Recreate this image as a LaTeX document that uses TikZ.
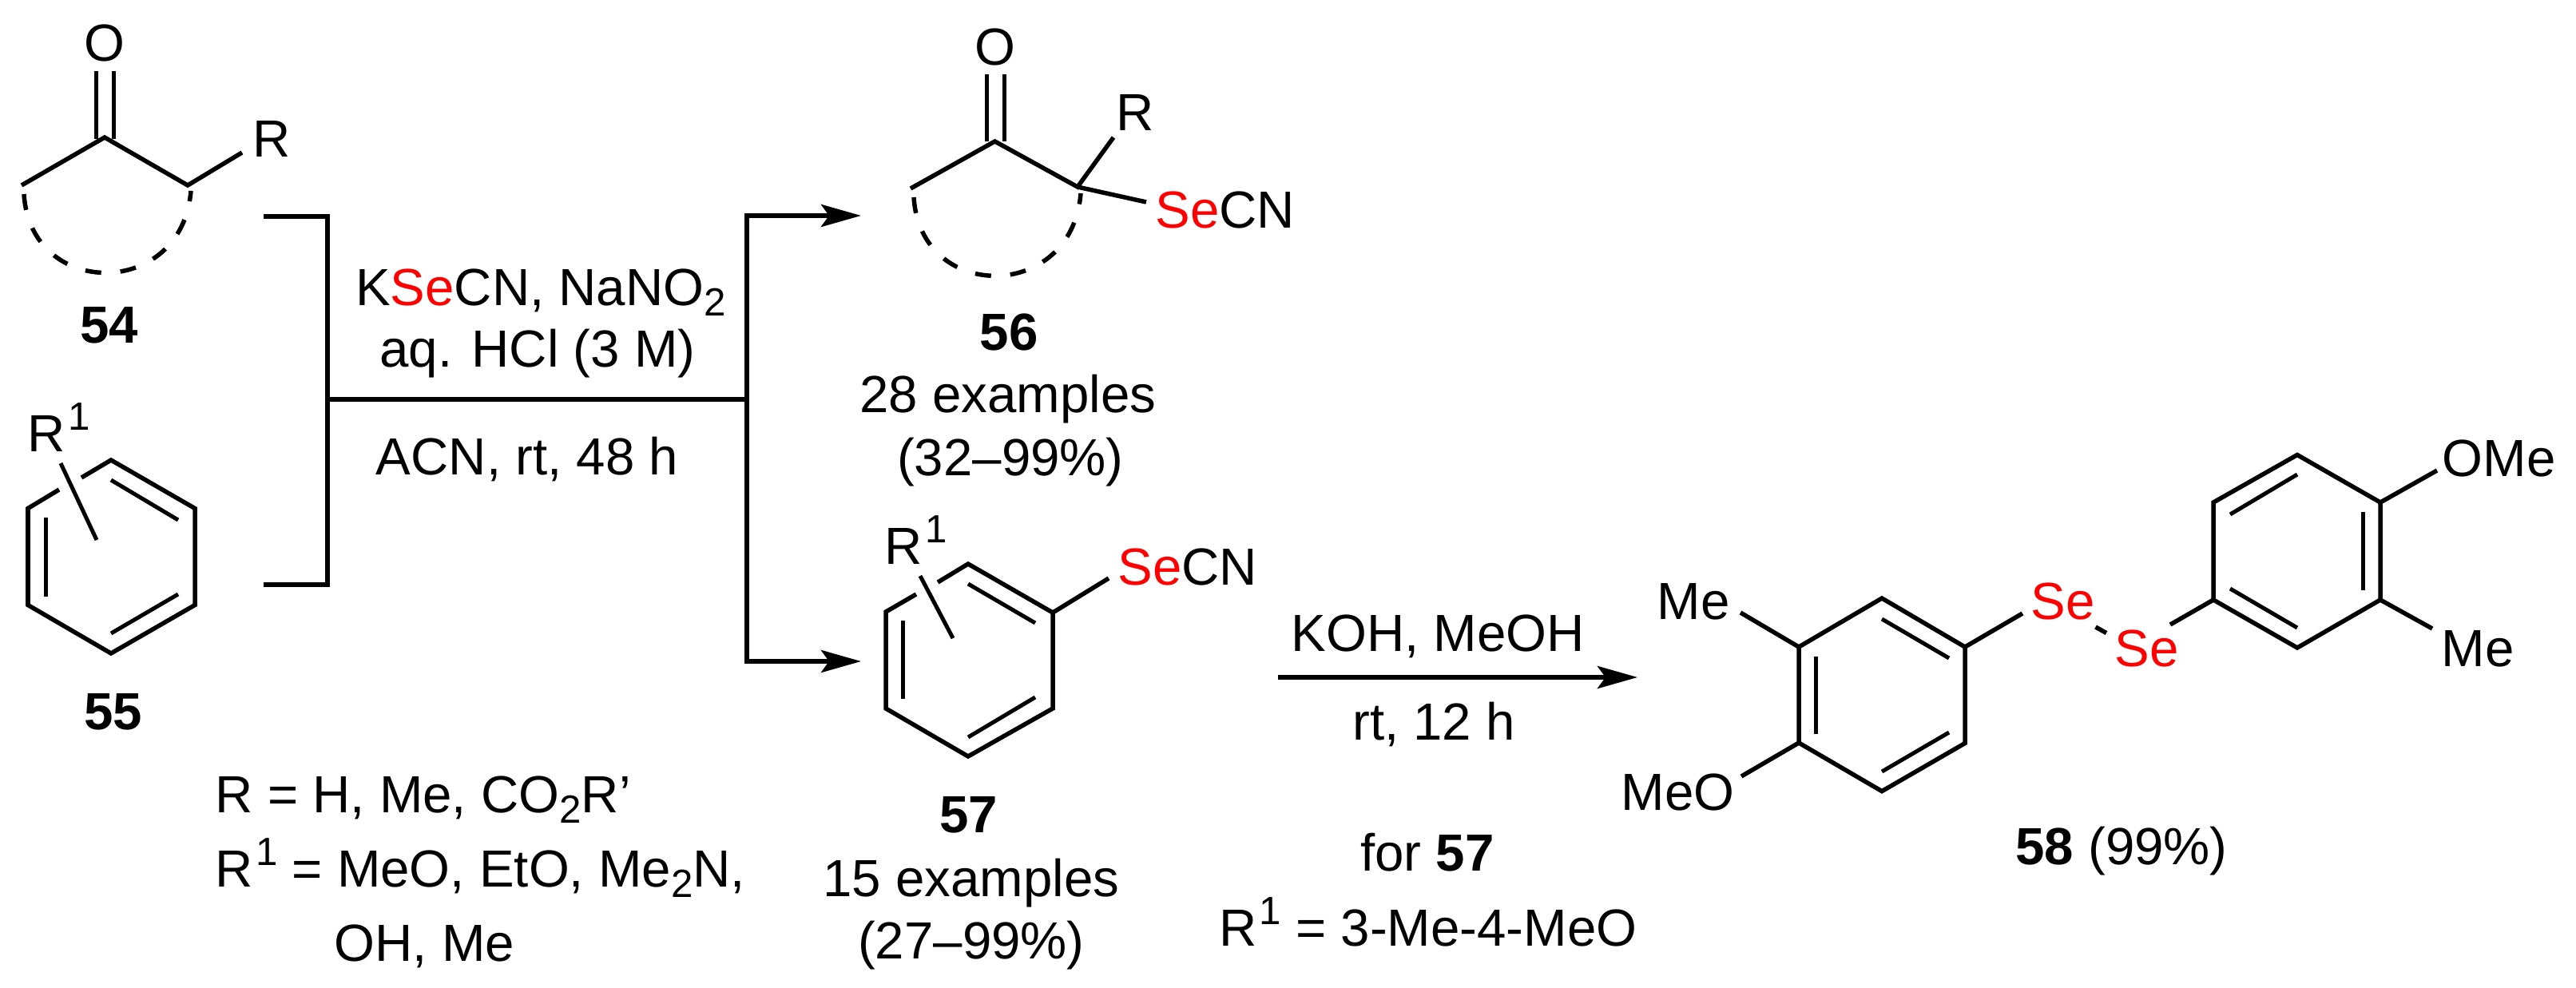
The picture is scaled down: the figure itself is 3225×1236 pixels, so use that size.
\documentclass[tikz,border=0pt]{standalone}
\usepackage{fontspec}
\setmainfont{Liberation Sans}
\usetikzlibrary{arrows.meta,calc}
\newcommand{\chemsub}[1]{\raisebox{-0.21em}{\fontsize{14}{14}\selectfont #1}}
\newcommand{\chemsup}[1]{\kern0.05em\raisebox{0.41em}{\fontsize{14}{14}\selectfont #1}}
\newcommand{\se}{\textcolor{red}{Se}}

\begin{document}
\begin{tikzpicture}[x=0.01cm,y=-0.01cm]
  \tikzstyle{bond}=[line width=0.055cm]
  \tikzstyle{inbond}=[line width=0.05cm]
  \tikzstyle{ringdash}=[line width=0.055cm, dash pattern=on 0.2cm off 0.24cm]
  \tikzstyle{schemeline}=[line width=0.058cm]
  \tikzstyle{rxnarrow}=[line width=0.058cm, -{Stealth[length=0.5cm,width=0.28cm,inset=0.1cm]}]
  \tikzstyle{chem}=[inner sep=0pt, anchor=base, font=\fontsize{18.6}{22}\selectfont]
  \tikzstyle{chemleft}=[chem, anchor=base west]
  \useasboundingbox (0,0) rectangle (3225,1236);

  % Ketone 54
  \node[chem] (o54) at (131,76) {O};
  \node[chem] (r54) at (340,196) {R};
  \node[chem] (lab54) at (137,429) {\textbf{54}};
  \coordinate (a54) at (131,172);
  \coordinate (l54) at (27,232);
  \coordinate (m54) at (235,232);
  \coordinate (e54) at (303,191);
  \draw[bond] (l54) -- (a54) -- (m54) -- (e54);
  \coordinate (d54a) at (120.7,174);
  \coordinate (d54b) at (120.7,89);
  \coordinate (d54c) at (142.4,174);
  \coordinate (d54d) at (142.4,89);
  \draw[bond] (d54a) -- (d54b);
  \draw[bond] (d54c) -- (d54d);
  \coordinate (s54) at (30,243);
  \coordinate (f54) at (239,239);
  \draw[ringdash] (s54) .. controls (38,375) and (228,375) .. (f54);

  % Arene 55
  \node[chemleft] (r55) at (34,565) {R\chemsup{1}};
  \node[chem] (lab55) at (142,913) {\textbf{55}};
  \coordinate (a55) at (139,576);
  \coordinate (b55) at (244,636.5);
  \coordinate (c55) at (244,757.5);
  \coordinate (d55) at (139,818);
  \coordinate (e55) at (35,757.5);
  \coordinate (f55) at (35,636.5);
  \coordinate (g55) at (102,598);
  \coordinate (h55) at (74,613);
  \draw[bond] (g55) -- (a55) -- (b55) -- (c55) -- (d55) -- (e55) -- (f55) -- (h55);
  \coordinate (i55) at (76,580);
  \coordinate (j55) at (121,676);
  \draw[inbond] (i55) -- (j55);
  \coordinate (k55) at (139,601);
  \coordinate (l55) at (223,651);
  \coordinate (m55) at (139,793);
  \coordinate (n55) at (223,744);
  \coordinate (o55) at (57.5,648);
  \coordinate (p55) at (57.5,746.5);
  \draw[inbond] (k55) -- (l55);
  \draw[inbond] (m55) -- (n55);
  \draw[inbond] (o55) -- (p55);

  % Reaction lines
  \coordinate (tl) at (330,271);
  \coordinate (tm) at (410,271);
  \coordinate (bm) at (410,732);
  \coordinate (bl) at (330,732);
  \coordinate (cl) at (410,500);
  \coordinate (cr) at (935,500);
  \coordinate (tr) at (935,270);
  \coordinate (br) at (935,828);
  \coordinate (ta) at (1078,270);
  \coordinate (ba) at (1078,828);
  \draw[schemeline] (tl) -- (tm) -- (bm) -- (bl);
  \draw[schemeline] (cl) -- (cr);
  \draw[rxnarrow] (tr) -- (ta);
  \draw[rxnarrow] (br) -- (ba);
  \draw[schemeline] ($(tr)+(0,-3)$) -- ($(br)+(0,3)$);

  \node[chem] (cond1) at (677,382) {K\se CN, NaNO\chemsub{2}};
  \node[chem] (cond2) at (673,459) {aq. HCl (3 M)};
  \node[chem] (cond3) at (660,594) {ACN, rt, 48 h};

  % Substituents
  \node[chemleft] (sub1) at (269,1017) {R = H, Me, CO\chemsub{2}R'};
  \node[chemleft] (sub2) at (269,1110) {R\chemsup{1} = MeO, EtO, Me\chemsub{2}N,};
  \node[chemleft] (sub3) at (418,1203) {OH, Me};

  % Product 56
  \node[chem] (o56) at (1245.5,81) {O};
  \node[chem] (r56) at (1421,163) {R};
  \node[chemleft] (se56) at (1446,285) {\se CN};
  \node[chem] (lab56) at (1263,438) {\textbf{56}};
  \node[chem] (ex56) at (1262,516) {28 examples};
  \node[chem] (y56) at (1265,595) {(32–99\%)};
  \coordinate (a56) at (1245.5,177);
  \coordinate (l56) at (1140,236);
  \coordinate (m56) at (1349,234);
  \coordinate (e56) at (1394,172);
  \coordinate (g56) at (1435,253);
  \draw[bond] (l56) -- (a56) -- (m56) -- (e56);
  \draw[bond] (m56) -- (g56);
  \coordinate (d56a) at (1235.7,177);
  \coordinate (d56b) at (1235.7,93);
  \coordinate (d56c) at (1257.5,177);
  \coordinate (d56d) at (1257.5,93);
  \draw[bond] (d56a) -- (d56b);
  \draw[bond] (d56c) -- (d56d);
  \coordinate (s56) at (1144,247);
  \coordinate (f56) at (1353,242);
  \draw[ringdash] (s56) .. controls (1152,379) and (1342,379) .. (f56);

  % Product 57
  \node[chemleft] (r57) at (1107,706) {R\chemsup{1}};
  \node[chemleft] (se57) at (1399,732) {\se CN};
  \node[chem] (lab57) at (1212.5,1042) {\textbf{57}};
  \node[chem] (ex57) at (1216,1122) {15 examples};
  \node[chem] (y57) at (1216,1200) {(27–99\%)};
  \coordinate (a57) at (1212,706);
  \coordinate (b57) at (1318,767);
  \coordinate (c57) at (1318,887);
  \coordinate (d57) at (1212,947);
  \coordinate (e57) at (1109,887);
  \coordinate (f57) at (1109,766);
  \coordinate (g57) at (1174,729);
  \coordinate (h57) at (1147,744);
  \draw[bond] (g57) -- (a57) -- (b57) -- (c57) -- (d57) -- (e57) -- (f57) -- (h57);
  \coordinate (i57) at (1152,721);
  \coordinate (j57) at (1193,799);
  \draw[inbond] (i57) -- (j57);
  \coordinate (k57) at (1212,731);
  \coordinate (l57) at (1296,780);
  \coordinate (m57) at (1212,923);
  \coordinate (n57) at (1296,873);
  \coordinate (o57) at (1130,777);
  \coordinate (p57) at (1130,875);
  \draw[inbond] (k57) -- (l57);
  \draw[inbond] (m57) -- (n57);
  \draw[inbond] (o57) -- (p57);
  \coordinate (q57) at (1388,724);
  \draw[bond] (b57) -- (q57);

  % Second step
  \coordinate (st) at (1600,848);
  \coordinate (en) at (2050,848);
  \draw[rxnarrow] (st) -- (en);
  \node[chem] (cond4) at (1800,815) {KOH, MeOH};
  \node[chem] (cond5) at (1795,926) {rt, 12 h};
  \node[chem] (for57) at (1787,1090) {for \textbf{57}};
  \node[chem] (rdef) at (1788,1184) {R\chemsup{1} = 3-Me-4-MeO};

  % Diselenide 58
  \node[chemleft] (me58a) at (2074,775) {Me};
  \node[chemleft] (meo58) at (2029,1014) {MeO};
  \node[chemleft] (se58a) at (2542,775) {\textcolor{red}{Se}};
  \node[chemleft] (se58b) at (2647,834) {\textcolor{red}{Se}};
  \node[chemleft] (ome58) at (3057,596) {OMe};
  \node[chemleft] (me58b) at (3056,834) {Me};
  \node[chem] (lab58) at (2656,1082) {\textbf{58} (99\%)};
  \coordinate (a58) at (2356,749);
  \coordinate (b58) at (2460,810);
  \coordinate (c58) at (2460,930.5);
  \coordinate (d58) at (2356,990.6);
  \coordinate (e58) at (2252,930);
  \coordinate (f58) at (2252,810);
  \draw[bond] (a58) -- (b58) -- (c58) -- (d58) -- (e58) -- (f58) -- cycle;
  \coordinate (g58) at (2273,822);
  \coordinate (h58) at (2273,919);
  \coordinate (i58) at (2356,775);
  \coordinate (j58) at (2440,824);
  \coordinate (k58) at (2356,966);
  \coordinate (l58) at (2440,917);
  \draw[inbond] (g58) -- (h58);
  \draw[inbond] (i58) -- (j58);
  \draw[inbond] (k58) -- (l58);
  \coordinate (m58) at (2179,767);
  \coordinate (n58) at (2180,972);
  \coordinate (o58) at (2532,768);
  \draw[bond] (f58) -- (m58);
  \draw[bond] (e58) -- (n58);
  \draw[bond] (b58) -- (o58);
  \coordinate (p58) at (2623.5,785);
  \coordinate (q58) at (2637,792.5);
  \draw[bond] (p58) -- (q58);
  \coordinate (r58) at (2717,782);
  \coordinate (s58) at (2771,751);
  \coordinate (t58) at (2771,629);
  \coordinate (u58) at (2876,569.5);
  \coordinate (v58) at (2980,629);
  \coordinate (w58) at (2980,751);
  \coordinate (x58) at (2876,811);
  \draw[bond] (r58) -- (s58);
  \draw[bond] (s58) -- (t58) -- (u58) -- (v58) -- (w58) -- (x58) -- cycle;
  \coordinate (y58) at (2958.5,641);
  \coordinate (z58) at (2958.5,739);
  \draw[inbond] (y58) -- (z58);
  \coordinate (aa58) at (2876,594);
  \coordinate (ab58) at (2792,644);
  \coordinate (ac58) at (2792,737);
  \coordinate (ad58) at (2876,786);
  \draw[inbond] (aa58) -- (ab58);
  \draw[inbond] (ac58) -- (ad58);
  \coordinate (ae58) at (3051,589);
  \coordinate (af58) at (3045,787);
  \draw[bond] (v58) -- (ae58);
  \draw[bond] (w58) -- (af58);
\end{tikzpicture}
\end{document}
